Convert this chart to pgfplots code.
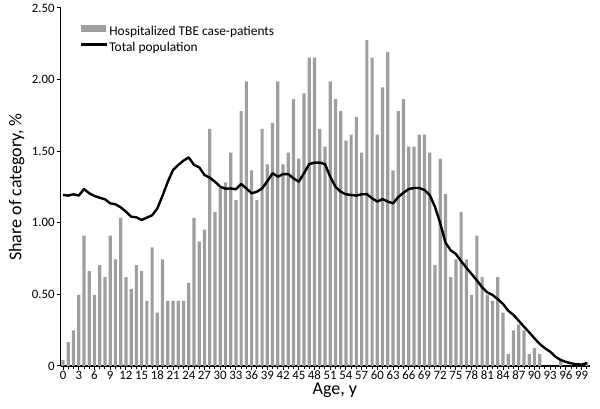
\documentclass[border=0pt]{standalone}
\usepackage{pgfplots}
\pgfplotsset{compat=1.18}
\usepackage{pgfplotstable}
\usepackage{fontspec}
\setmainfont{Carlito}
\definecolor{barcol}{RGB}{158,158,158}
\pgfplotstableread{
age tbe pop
0 0.041 1.194
1 0.166 1.190
2 0.248 1.199
3 0.497 1.190
4 0.911 1.236
5 0.662 1.206
6 0.497 1.187
7 0.704 1.175
8 0.621 1.164
9 0.911 1.136
10 0.745 1.129
11 1.035 1.108
12 0.621 1.078
13 0.538 1.043
14 0.704 1.038
15 0.662 1.020
16 0.455 1.036
17 0.828 1.052
18 0.373 1.100
19 0.745 1.190
20 0.455 1.287
21 0.455 1.369
22 0.455 1.404
23 0.455 1.434
24 0.580 1.457
25 1.035 1.404
26 0.869 1.387
27 0.952 1.334
28 1.656 1.315
29 1.076 1.287
30 1.242 1.252
31 1.283 1.238
32 1.490 1.240
33 1.159 1.234
34 1.780 1.271
35 1.987 1.240
36 1.366 1.206
37 1.159 1.217
38 1.656 1.240
39 1.408 1.290
40 1.697 1.346
41 1.987 1.322
42 1.408 1.340
43 1.490 1.340
44 1.863 1.310
45 1.449 1.287
46 1.904 1.346
47 2.153 1.410
48 2.153 1.420
49 1.656 1.420
50 1.532 1.410
51 1.987 1.322
52 1.863 1.252
53 1.780 1.217
54 1.573 1.199
55 1.615 1.194
56 1.739 1.190
57 1.490 1.199
58 2.277 1.200
59 2.153 1.171
60 1.615 1.148
61 1.946 1.166
62 2.194 1.148
63 1.366 1.136
64 1.780 1.180
65 1.863 1.210
66 1.532 1.236
67 1.532 1.243
68 1.615 1.243
69 1.615 1.229
70 1.490 1.194
71 0.704 1.112
72 1.449 0.998
73 1.201 0.862
74 0.621 0.808
75 0.745 0.782
76 1.076 0.732
77 0.745 0.686
78 0.497 0.642
79 0.911 0.598
80 0.621 0.550
81 0.497 0.514
82 0.455 0.496
83 0.621 0.466
84 0.373 0.433
85 0.083 0.386
86 0.248 0.356
87 0.290 0.316
88 0.248 0.274
89 0.083 0.235
90 0.124 0.193
91 0.083 0.154
92 0 0.124
93 0 0.100
94 0 0.065
95 0.041 0.042
96 0 0.028
97 0 0.019
98 0 0.012
99 0 0.010
100 0.030 0.020
}\data
\begin{document}
\begin{tikzpicture}
\path[use as bounding box] (-60.7pt,-43pt) rectangle (539.3pt,366pt);
\begin{axis}[
  at={(0pt,0pt)}, anchor=south west,
  scale only axis,
  width=529.3pt, height=358pt,
  xmin=-0.45, xmax=100.6,
  ymin=0, ymax=2.5,
  axis lines*=left,
  axis line style={-, line width=1.5pt, black},
  tick align=outside,
  tick style={black, line width=1pt},
  major tick length=4pt,
  minor tick length=3.5pt,
  xtick={0,3,...,99},
  xticklabels={0,3,6,9,12,15,18,21,24,27,30,33,36,39,42,45,48,51,54,57,60,63,66,69,72,75,78,81,84,87,90,93,96,99},
  minor xtick={0,1,...,100},
  ytick={0,0.5,1,1.5,2,2.5},
  yticklabels={0,0.50,1.00,1.50,2.00,2.50},
  /pgf/number format/assume math mode=true,
  ticklabel style={font=\fontsize{12.8}{15}\selectfont},
  xticklabel style={inner sep=1pt},
  yticklabel style={inner sep=2pt},
  xlabel={Age, y},
  ylabel={Share of category, \%},
  label style={font=\fontsize{18}{21}\selectfont},
  xlabel style={at={(axis description cs:0.518,-0.069)}, anchor=center},
  ylabel style={at={(axis description cs:-0.083,0.5)}, anchor=center},
  legend style={at={(axis description cs:0.036,0.952)}, anchor=north west,
    draw=none, fill=none, inner sep=0pt, row sep=3pt,
    font=\fontsize{13.4}{16}\selectfont,
    nodes={inner sep=1pt}},
  legend cell align=left,
]
\addplot[ybar, bar width=3.2pt, fill=barcol, draw=none,
  legend image code/.code={\fill[barcol] (0pt,-0.5pt) rectangle (25pt,6.5pt);}]
  table[x=age, y=tbe] {\data};
\addlegendentry{Hospitalized TBE case-patients}
\addplot[black, line width=2.4pt, line join=round,
  legend image code/.code={\draw[black, line width=2.4pt] (0pt,3pt) -- (26pt,3pt);}]
  table[x=age, y=pop] {\data};
\addlegendentry{Total population}
\end{axis}
\end{tikzpicture}
\end{document}
